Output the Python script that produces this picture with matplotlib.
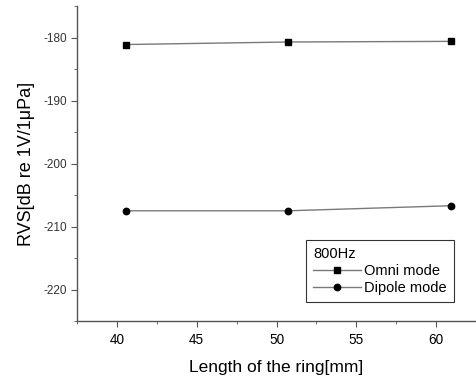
import matplotlib
matplotlib.use("Agg")
import matplotlib.pyplot as plt
from matplotlib.ticker import MultipleLocator

plt.rcParams['font.family'] = ['Liberation Sans', 'DejaVu Sans']
plt.rcParams['axes.unicode_minus'] = False

# Данные
ring_length = [40.6, 50.75, 60.9]
omni_rvs = [-181.1, -180.7, -180.6]
dipole_rvs = [-207.5, -207.5, -206.7]

fig = plt.figure(figsize=(4.77, 3.81), dpi=100)
ax = fig.add_axes([0.1614, 0.1575, 0.8366, 0.8265])

ax.plot(ring_length, omni_rvs, color='#7a7a7a', linewidth=1.0,
        marker='s', markersize=4.3, markerfacecolor='black', markeredgecolor='black',
        label='Omni mode')
ax.plot(ring_length, dipole_rvs, color='#7a7a7a', linewidth=1.0,
        marker='o', markersize=4.6, markerfacecolor='black', markeredgecolor='black',
        label='Dipole mode')

ax.set_xlim(37.5, 62.5)
ax.set_ylim(-225, -175)
ax.xaxis.set_major_locator(MultipleLocator(5))
ax.xaxis.set_minor_locator(MultipleLocator(2.5))
ax.yaxis.set_major_locator(MultipleLocator(10))
ax.yaxis.set_minor_locator(MultipleLocator(5))

ax.spines['top'].set_visible(False)
ax.spines['right'].set_visible(False)
for s in ['left', 'bottom']:
    ax.spines[s].set_color('#555555')
    ax.spines[s].set_linewidth(1.0)

ax.tick_params(axis='both', which='major', direction='out', length=4,
               colors='#555555')
ax.tick_params(axis='both', which='minor', direction='out', length=2.5,
               colors='#555555')
ax.tick_params(axis='x', labelsize=9.8, labelcolor='black', pad=5)
ax.tick_params(axis='y', labelsize=8.5, labelcolor='#333333', pad=3)

ax.set_xlabel('Length of the ring[mm]', fontsize=12.5, labelpad=9)
ax.set_ylabel('RVS[dB re 1V/1\u03bcPa]', fontsize=13, labelpad=6)

leg = ax.legend(title='800Hz', loc='lower right', bbox_to_anchor=(0.945, 0.060),
                fontsize=10.5, title_fontsize=10.5, frameon=True, fancybox=False,
                edgecolor='black', handlelength=3.3, borderpad=0.5,
                labelspacing=0.2, handletextpad=0.2, borderaxespad=0)
leg._legend_box.align = 'left'
leg.get_frame().set_linewidth(0.8)

fig.savefig('out.png', dpi=100)
